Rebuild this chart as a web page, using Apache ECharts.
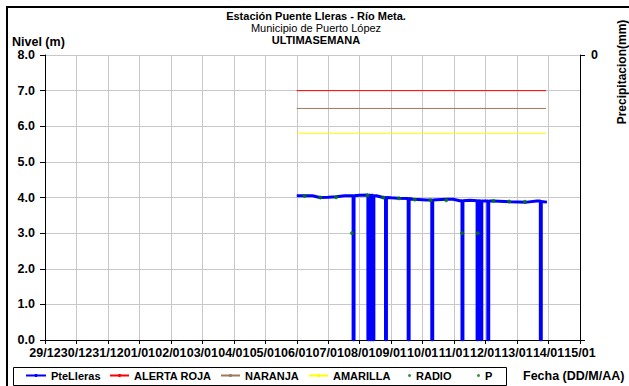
<!DOCTYPE html>
<html>
<head>
<meta charset="utf-8">
<script src="https://cdn.jsdelivr.net/npm/echarts@6/dist/echarts.min.js"></script>
<style>
html,body{margin:0;padding:0;background:#fff;}
#chart{width:629px;height:386px;}
</style>
</head>
<body>
<div id="chart"></div>
<script>
// Tick labels (one per day, starting 29/12)
const dayLabels = ['29/12','30/12','31/12','01/01','02/01','03/01','04/01','05/01','06/01','07/01','08/01','09/01','10/01','11/01','12/01','13/01','14/01','15/01'];

// PteLleras level: [day offset from 29/12 00:00, level (m)]
const pteLleras = [
  [8.00,4.05],[8.25,4.05],[8.50,4.05],[8.73,4.00],[9.00,4.01],[9.26,4.02],[9.52,4.05],
  [9.79,4.05],[9.79,0],[9.82,0],[9.82,4.05],
  [10.00,4.06],[10.26,4.07],[10.26,0],[10.29,0],[10.29,4.07],
  [10.34,4.06],[10.34,0],[10.37,0],[10.37,4.06],
  [10.42,4.06],[10.42,0],[10.45,0],[10.45,4.05],
  [10.53,4.05],[10.74,4.00],
  [10.82,4.00],[10.82,0],[10.85,0],[10.85,4.00],
  [11.00,3.99],[11.22,3.98],
  [11.54,3.97],[11.54,0],[11.57,0],[11.57,3.97],
  [11.70,3.95],[12.00,3.94],[12.12,3.93],
  [12.29,3.93],[12.29,0],[12.32,0],[12.32,3.93],
  [12.44,3.94],[12.76,3.95],[12.97,3.95],[13.18,3.91],
  [13.25,3.91],[13.25,0],[13.28,0],[13.28,3.91],
  [13.50,3.92],
  [13.73,3.91],[13.73,0],[13.76,0],[13.76,3.91],
  [13.85,3.90],[13.85,0],[13.88,0],[13.88,3.90],
  [14.07,3.90],[14.07,0],[14.10,0],[14.10,3.90],
  [14.25,3.90],[14.78,3.88],[15.31,3.87],[15.63,3.90],
  [15.74,3.90],[15.74,0],[15.77,0],[15.77,3.89],
  [15.95,3.87]
];

// Radio readings (every 12 h)
const radioDays   = [8.25,8.75,9.25,9.75,10.25,10.75,11.25,11.75,12.25,12.75,13.25,13.75,14.25,14.75,15.25];
const radioValues = [4.04,4.00,4.01,3.00,4.06,4.00,3.98,3.94,3.92,3.92,3.00,3.00,3.90,3.89,3.88];

// Precipitation (none recorded)
const precipDays = [];
const precipValues = [];

// Alert thresholds
const thresholdSpan = [8.0, 15.92];
const alertaRoja = 7.0;
const naranja = 6.5;
const amarilla = 5.8;

const FONT = "'Liberation Sans', Arial, sans-serif";
const txt = {color:'#000', fontFamily:FONT, fontSize:11, fontWeight:'bold'};
const axTxt = {color:'#000', fontFamily:FONT, fontSize:12.5, fontWeight:'bold'};

function hLine(v){ return thresholdSpan.map(d => [d, v]); }
function pairs(xs, ys){ return xs.map((x,i)=>[x, ys[i]]); }

function leg(name, left, w, h){
  return {data:[name], left:left, top:370, itemWidth:w, itemHeight:h, padding:0,
          selectedMode:false, textStyle:Object.assign({}, txt)};
}

const chart = echarts.init(document.getElementById('chart'), null, {renderer:'svg'});
chart.setOption({
  animation:false,
  backgroundColor:'#fff',
  grid:{left:45, right:49, top:55, bottom:46},
  xAxis:{
    type:'value', min:0, max:17, interval:1,
    axisLine:{lineStyle:{color:'#000', width:1}},
    axisTick:{show:true, length:4, lineStyle:{color:'#000'}},
    axisLabel:Object.assign({formatter:v=>dayLabels[Math.round(v)]||'', margin:6}, axTxt),
    splitLine:{show:true, lineStyle:{color:'#c8c8c8', width:1}}
  },
  yAxis:[
    {type:'value', min:0, max:8, interval:1, position:'left',
     axisLine:{show:true, lineStyle:{color:'#000'}},
     axisTick:{show:true, length:5, lineStyle:{color:'#000'}},
     axisLabel:Object.assign({formatter:v=>v.toFixed(1), margin:10}, axTxt),
     splitLine:{show:true, lineStyle:{color:'#c8c8c8', width:1}}},
    {type:'value', min:0, max:10, interval:10, inverse:true, position:'right',
     axisLine:{show:true, lineStyle:{color:'#000'}},
     axisTick:{show:true, length:5, lineStyle:{color:'#000'}},
     axisLabel:Object.assign({formatter:v=>v===0?'0':'', margin:11}, axTxt),
     splitLine:{show:false}}
  ],
  legend:[
    leg('PteLleras', 25, 20, 4),
    leg('ALERTA ROJA', 109, 19, 4),
    leg('NARANJA', 220, 19, 4),
    leg('AMARILLA', 308, 19, 4),
    leg('RADIO', 408, 3, 3),
    leg('P', 477, 3, 3)
  ],
  graphic:[
    {type:'polyline', shape:{points:[[7,386],[7,7],[629,7]]}, style:{stroke:'#000', lineWidth:2, fill:null}},
    {type:'rect', shape:{x:13.5, y:367.5, width:493, height:18}, style:{stroke:'#000', lineWidth:1, fill:null}, z:-1},
    {type:'text', x:316, y:16, style:{text:'Estación Puente Lleras - Río Meta.', font:"bold 11px "+FONT, fill:'#000', textAlign:'center', textVerticalAlign:'middle'}},
    {type:'text', x:316, y:28, style:{text:'Municipio de Puerto López', font:"11px "+FONT, fill:'#000', textAlign:'center', textVerticalAlign:'middle'}},
    {type:'text', x:316, y:40, style:{text:'ULTIMASEMANA', font:"bold 11px "+FONT, fill:'#000', textAlign:'center', textVerticalAlign:'middle'}},
    {type:'text', x:12, y:42, style:{text:'Nivel (m)', font:"bold 12.5px "+FONT, fill:'#000', textAlign:'left', textVerticalAlign:'middle'}},
    {type:'text', x:523, y:376, style:{text:'Fecha (DD/M/AA)', font:"bold 12.5px "+FONT, fill:'#000', textAlign:'left', textVerticalAlign:'middle'}},
    {type:'text', x:622, y:72, rotation:Math.PI/2, style:{text:'Precipitacion(mm)', font:"bold 12px "+FONT, fill:'#000', textAlign:'center', textVerticalAlign:'middle'}}
  ],
  series:[
    {name:'PteLleras', type:'line', data:pteLleras, symbol:'none', showSymbol:false,
     color:'#0000ff', lineStyle:{color:'#0000ff', width:3}, z:3},
    {name:'ALERTA ROJA', type:'line', data:hLine(alertaRoja), symbol:'none', showSymbol:false,
     color:'#ff0000', lineStyle:{color:'#ff0000', width:1}, z:2},
    {name:'NARANJA', type:'line', data:hLine(naranja), symbol:'none', showSymbol:false,
     color:'#a0785a', lineStyle:{color:'#a0785a', width:1}, z:2},
    {name:'AMARILLA', type:'line', data:hLine(amarilla), symbol:'none', showSymbol:false,
     color:'#ffff00', lineStyle:{color:'#ffff00', width:1}, z:2},
    {name:'RADIO', type:'scatter', data:pairs(radioDays, radioValues), symbol:'circle', symbolSize:4,
     itemStyle:{color:'#008000'}, z:4},
    {name:'P', type:'scatter', yAxisIndex:1, data:pairs(precipDays, precipValues), symbol:'circle', symbolSize:4,
     itemStyle:{color:'#008000'}, z:4}
  ]
});
</script>
</body>
</html>
